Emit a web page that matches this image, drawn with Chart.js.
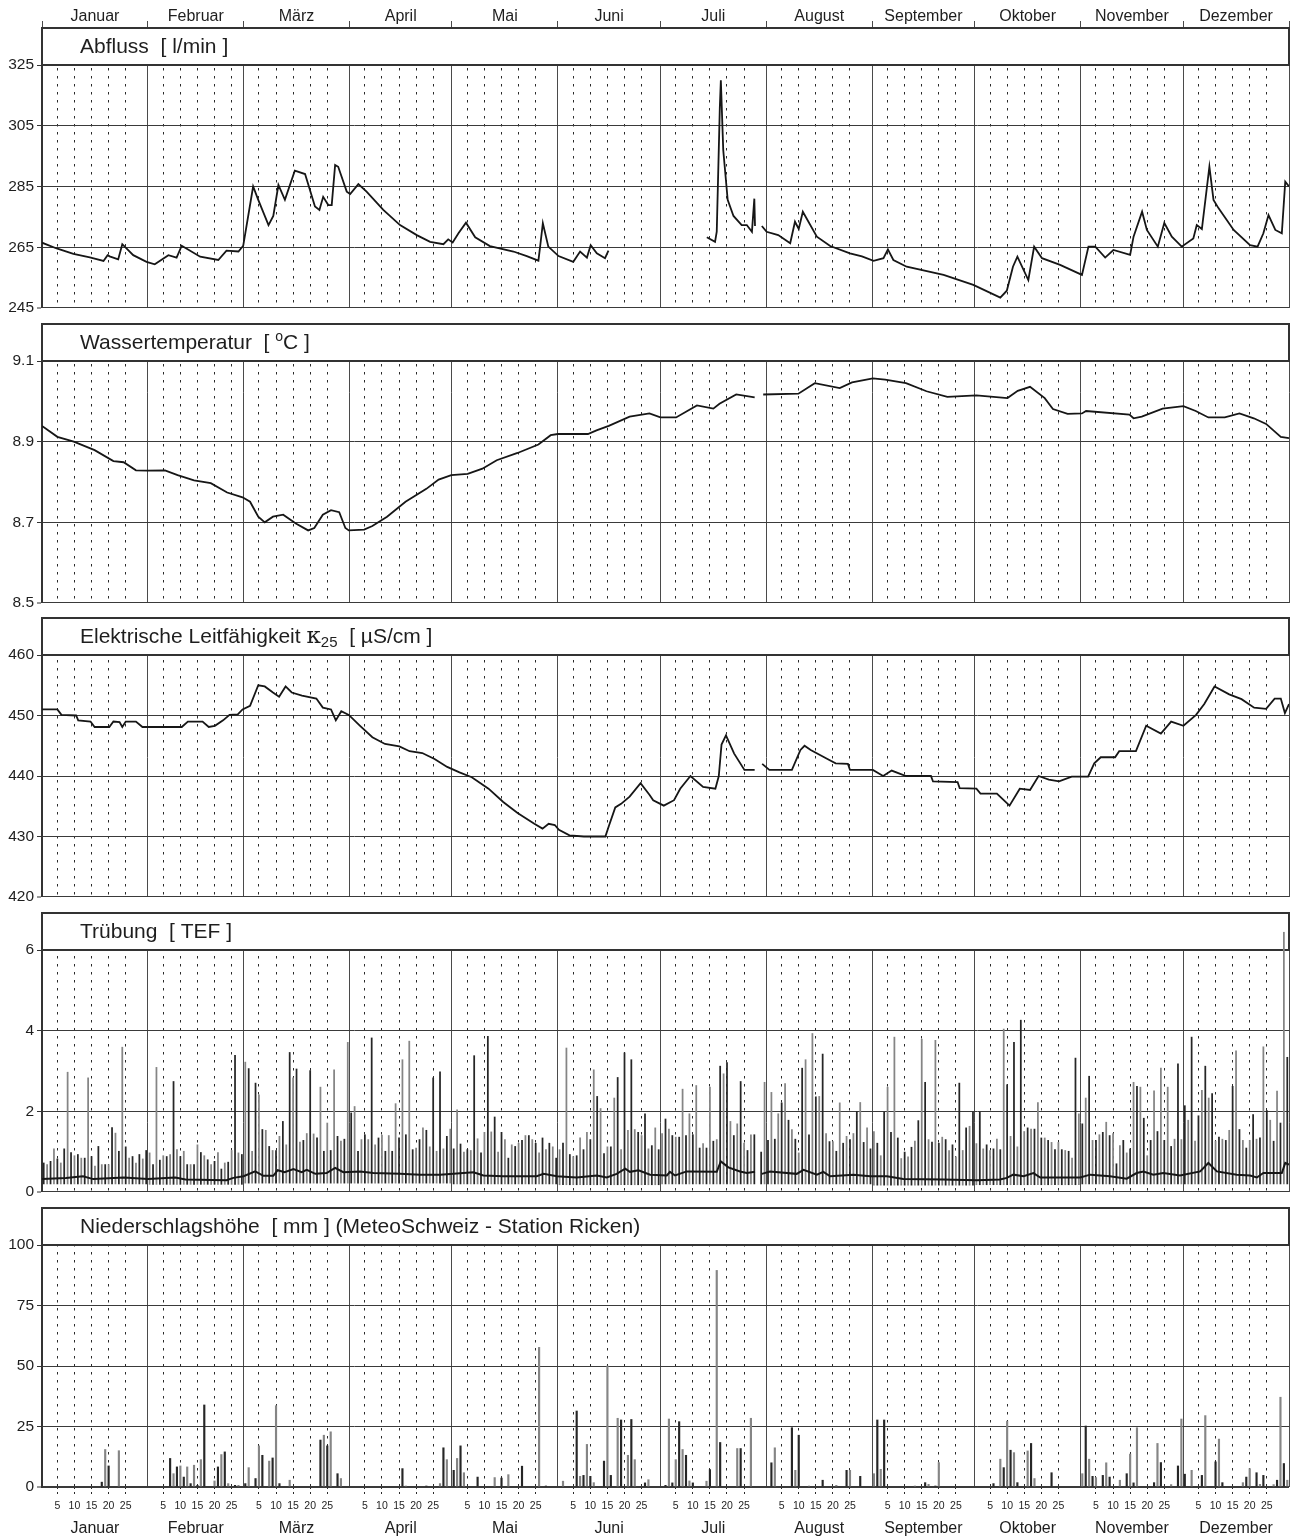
<!DOCTYPE html>
<html>
<head>
<meta charset="utf-8">
<script src="https://cdn.jsdelivr.net/npm/chart.js@4.4.1/dist/chart.umd.min.js"></script>
<style>
  html, body { margin: 0; padding: 0; background: #fff; }
  #wrap { position: relative; width: 1295px; height: 1538px; }
</style>
</head>
<body>
<div id="wrap"><canvas id="jahrChart"></canvas></div>
<script>
// Kalender
const monate = ['Januar', 'Februar', 'März', 'April', 'Mai', 'Juni', 'Juli', 'August', 'September', 'Oktober', 'November', 'Dezember'];
const monatsStart = [0, 31, 59, 90, 120, 151, 181, 212, 243, 273, 304, 334, 365];
const tagMarken = [5, 10, 15, 20, 25];

// Achsen-Ticks
const abflussTicks = [245, 265, 285, 305, 325];
const tempTicks = [8.5, 8.7, 8.9, 9.1];
const leitTicks = [420, 430, 440, 450, 460];
const truebTicks = [0, 2, 4, 6];
const niederTicks = [0, 25, 50, 75, 100];

// Abfluss [l/min]
const abflussTag = [0, 4.3, 9.2, 14, 18, 19.2, 19.8, 22.3, 23.5, 26.7, 30.6, 33, 37, 39.4, 40.9, 46.3, 51.6, 54, 57.5, 58.9,
  61.8, 63.3, 66.3, 67.7, 69.2, 71.1, 74, 77, 79.9, 81.2, 82.3, 83.8, 84.8, 85.8, 86.7, 89.2, 90.2, 92.6, 95, 99.9,
  104.8, 109.7, 113.6, 117.5, 118.9, 120.2, 121.9, 124.1, 126.8, 131.1, 138, 141.9, 145.3, 145.8, 146.6, 148.2, 151.2, 155.5, 157.5, 159.5,
  160.6, 162.4, 164.8, 165.8, 180,
  194.6, 197, 197.5, 198.4, 198.7, 199.4, 200.7, 202.4, 204.8, 206.3, 207.8, 208.5, 208.7, 209.7,
  210.7, 212.1, 215.5, 219, 220.4, 221.5, 222.7, 226.8, 230.7, 236.5, 240, 243.4, 246.3, 247.6, 249.2, 253.1, 263.9, 272.6, 280.5, 282.4,
  284.2, 285.5, 288.7, 290.4, 292.7, 298, 304.4, 306.3, 308.3, 311.2, 313.6, 318.5, 319.5, 322, 323.4, 326.6, 328.5, 330.7, 333.6, 337,
  338, 339.5, 341.7, 342.9, 344.4, 348.8, 353.6, 355.8, 357.5, 359, 361, 362.9, 363.9, 365];
const abflussWert = [266.5, 264.6, 262.8, 261.7, 260.5, 262.4, 262, 261, 266, 262.4, 260.2, 259.4, 262.4, 261.6, 265.5, 261.9, 260.8, 263.9, 263.6, 265.5,
  285, 280.6, 272.3, 275.3, 285.5, 280.6, 290.2, 289.1, 278.4, 277.3, 281.6, 278.9, 278.9, 292.1, 291.5, 283.3, 282.5, 285.8, 283.3, 277.3,
  272.3, 269, 266.8, 266, 267.6, 266.6, 269.6, 273.1, 268.3, 265.4, 263.6, 262.1, 260.6, 265.2, 272.9, 265.2, 262.1, 260.2, 263.6, 261.6,
  265.7, 263, 261.4, 263.9, null,
  268.3, 266.8, 270.1, 311, 320, 297, 280.6, 275.3, 272.3, 272.3, 270.1, 281, 272, null,
  272, 270.1, 269, 266.3, 273.4, 271, 276.7, 268.5, 265.4, 263, 262, 260.5, 261.4, 264.3, 260.8, 258.6, 255.9, 252.6, 248.4, 250.7,
  258.6, 261.9, 254.2, 265.2, 261.4, 259.2, 255.9, 265.2, 265.2, 261.6, 264.1, 262.5, 268.5, 276.7, 270.7, 265.2, 273, 268.5, 265.2, 267.9,
  272.3, 271, 291.5, 280.6, 277.8, 270.7, 265.7, 265.2, 269.6, 275.6, 270.7, 269.6, 286.6, 285];

// Wassertemperatur [°C]
const tempTag = [0, 4.5, 9.3, 15.4, 20.9, 23.9, 27.5, 30.8, 36, 39.7, 44.5, 49.4, 54.2, 58.7, 60.9, 63.3, 65.2, 67.6, 70.6, 74.3,
  77.9, 79.7, 82.2, 84.6, 87, 88.8, 89.8, 94.3, 96.7, 101, 106.4, 112.5, 116.1, 119.8, 124.6, 128.9, 133.1, 139.2, 145.3, 148.9,
  151, 159.8, 162.3, 165.9, 172, 177.8, 181, 185.6, 191.7, 196.5, 198.3, 203.2, 208.6, 209.8,
  211.1, 221.4, 226.2, 233.5, 237.1, 243.2, 246.8, 252.9, 258.9, 265, 273.5, 282.6, 285.6, 289.2, 293.5, 295.9, 300.2, 304.4, 305.6, 318.3,
  319.5, 321.9, 328, 334.1, 337.7, 341.4, 346.2, 350.5, 354.7, 358.3, 362.6, 365];
const tempWert = [8.939, 8.912, 8.9, 8.879, 8.852, 8.849, 8.829, 8.828, 8.829, 8.817, 8.804, 8.797, 8.774, 8.762, 8.751, 8.714, 8.7, 8.714, 8.719, 8.697,
  8.68, 8.686, 8.719, 8.73, 8.725, 8.686, 8.68, 8.682, 8.691, 8.714, 8.751, 8.783, 8.806, 8.817, 8.82, 8.833, 8.854, 8.872, 8.893, 8.916,
  8.919, 8.919, 8.928, 8.939, 8.962, 8.97, 8.96, 8.96, 8.99, 8.982, 8.994, 9.017, 9.01, null,
  9.017, 9.019, 9.045, 9.033, 9.047, 9.057, 9.054, 9.045, 9.025, 9.011, 9.015, 9.008, 9.026, 9.036, 9.008, 8.981, 8.969, 8.97, 8.976, 8.967,
  8.958, 8.962, 8.982, 8.988, 8.976, 8.96, 8.96, 8.97, 8.958, 8.944, 8.912, 8.909];

// Elektrische Leitfähigkeit [µS/cm]
const leitTag = [0, 4.5, 5.7, 10, 10.6, 14.2, 15.4, 19.7, 20.9, 22.7, 23.5, 24.5, 27.5, 29.4, 40.9, 42.7, 47, 48.8, 50.6, 53,
  54.9, 57.3, 58.7, 60.9, 63.3, 65.2, 67.6, 69.4, 71.3, 73.1, 76.1, 80.3, 82.2, 84.6, 86, 87.6, 89.8, 93.1, 96.7, 100.4,
  104.6, 107.6, 111.3, 114.9, 118.6, 122.2, 125.8, 130.7, 135, 139.2, 144.1, 146.5, 148.3, 150.1, 151.3, 154.4, 158.6, 164.9, 165.9, 167.8,
  169.5, 172, 175.2, 177.8, 178.9, 182, 185, 186.8, 189.8, 193.5, 197.1, 198.1, 198.9, 200.2, 202.6, 205.6, 208.6, 209.7,
  210.8, 212.9, 219.5, 222, 223.2, 225, 229.9, 232.3, 235.9, 236.5, 243.2, 246.2, 248.7, 252.9, 260.2, 260.8, 268, 268.6, 273.5, 274.7,
  279.5, 283.2, 286.2, 289.2, 291.7, 294.7, 297.7, 301.4, 306.2, 308, 309.9, 314.1, 315.3, 320.2, 323.2, 327.5, 330.5, 334.1, 337.8, 340.2,
  343.2, 347.5, 351.1, 354.8, 358.3, 360.8, 362.6, 363.8, 365];
const leitWert = [451, 451, 450.1, 450, 449.2, 449, 448.1, 448.1, 449, 448.9, 448.1, 449, 449, 448.1, 448.1, 449, 449, 448.1, 448.3, 449.2,
  450.1, 450.2, 451, 451.6, 455, 454.8, 453.8, 453.1, 454.8, 453.8, 453.3, 452.8, 451.3, 451, 449.2, 450.7, 450.1, 448.3, 446.4, 445.3,
  444.9, 444.1, 443.8, 442.8, 441.5, 440.6, 439.8, 437.9, 435.7, 433.9, 432.1, 431.3, 432.1, 431.9, 431.1, 430.2, 430, 430, 431.7, 434.8,
  435.4, 436.6, 438.8, 436.9, 436, 435.1, 436, 437.9, 440, 438.2, 437.9, 440, 445.2, 446.7, 443.7, 441, 441, null,
  442, 441, 441, 444.3, 445, 444.3, 442.8, 442.1, 442, 441, 441, 440, 440.9, 440, 440, 439.1, 439, 438, 437.9, 437.1,
  437.1, 435.1, 437.9, 437.7, 440, 439.4, 439.1, 439.9, 439.9, 442.1, 443.1, 443.1, 444.1, 444.1, 448.3, 447, 449, 448.3, 450.1, 451.9,
  454.8, 453.5, 452.7, 451.3, 451.1, 452.8, 452.8, 450.4, 451.9];

// Trübung [TEF] - Tagesmittel
const truebTag = [0, 7, 12, 15, 24, 31, 39, 42, 54, 56, 59, 62.4, 64.8, 67.7, 69, 71, 73.6, 76, 77.5, 80,
  83.3, 85.8, 88.2, 93.1, 97, 104.8, 110.7, 116.5, 126.3, 129.2, 135, 144.8, 146.8, 150.7, 156.5, 162.4, 165.3, 168.2, 170.7, 172.1,
  174.6, 178, 182.9, 183.8, 185.3, 188.7, 197.5, 198.7, 200.9, 204.3, 206.3, 208.7, 209.7,
  210.7, 213.1, 220.9, 222.9, 226.8, 228.7, 230.7, 237.5, 242.4, 247.3, 252.1, 263.8, 273.6, 280.4, 282.4, 284.3, 287.3, 290.2, 292.2, 303.9,
  306.8, 312.6, 317.5, 320.4, 322.4, 325.3, 328.2, 333.1, 339, 341.4, 343.9, 349.7, 353.6, 355.6, 357.5, 362.9, 363.9, 365];
const truebWert = [0.32, 0.35, 0.39, 0.32, 0.36, 0.32, 0.36, 0.31, 0.29, 0.35, 0.39, 0.51, 0.4, 0.4, 0.54, 0.49, 0.57, 0.49, 0.55, 0.45,
  0.47, 0.6, 0.49, 0.51, 0.47, 0.45, 0.43, 0.43, 0.49, 0.41, 0.39, 0.39, 0.45, 0.39, 0.36, 0.41, 0.36, 0.45, 0.58, 0.5,
  0.54, 0.43, 0.41, 0.5, 0.41, 0.51, 0.5, 0.76, 0.61, 0.51, 0.47, 0.5, null,
  0.45, 0.51, 0.45, 0.55, 0.43, 0.5, 0.39, 0.43, 0.39, 0.39, 0.32, 0.31, 0.29, 0.31, 0.35, 0.43, 0.39, 0.47, 0.36, 0.36,
  0.43, 0.39, 0.33, 0.47, 0.51, 0.43, 0.47, 0.41, 0.51, 0.72, 0.51, 0.43, 0.41, 0.36, 0.47, 0.47, 0.72, 0.68];

// Trübung - Tagesmaxima (ein Wert pro Tag) und Tagesminima je Monat
const truebMax = [
  0.72, 0.68, 0.76, 1.07, 0.82, 0.72, 1.07, 2.97, 0.98, 0.9, 0.93, 0.84, 0.84, 2.83, 0.88, 0.64, 1.13, 0.68, 0.68, 0.68, 1.6, 1.46, 1.01, 3.59, 1.12, 0.84, 0.88, 0.72, 0.93, 0.82, 1.03,
  0.97, 0.68, 3.09, 0.79, 0.9, 0.88, 0.93, 2.74, 1.05, 0.88, 1.01, 0.68, 0.68, 0.68, 1.17, 0.98, 0.9, 0.8, 0.68, 0.76, 0.98, 0.57, 0.72, 0.74, 1.03, 3.39, 0.97, 0.93,
  3.22, 3.06, 1.01, 2.7, 2.41, 1.55, 1.53, 1.13, 1.03, 1.03, 1.38, 1.75, 1.17, 3.46, 2.83, 3.05, 1.24, 1.28, 1.45, 3.01, 1.44, 1.34, 2.6, 1.01, 1.71, 1.03, 3.03, 1.38, 1.26, 1.31, 3.71,
  1.96, 2.12, 1.01, 1.3, 1.42, 1.3, 3.82, 1.17, 1.34, 1.41, 1.01, 1.4, 1.01, 2.19, 1.34, 3.28, 1.42, 3.74, 1.05, 1.09, 1.3, 1.59, 1.53, 1.12, 2.83, 1.01, 2.98, 1.07, 1.38, 1.56,
  1.07, 2.04, 1.19, 0.99, 1.05, 1.03, 3.38, 1.32, 0.97, 1.48, 3.86, 1.49, 1.86, 0.99, 1.48, 1.3, 0.84, 1.17, 1.13, 1.21, 1.28, 1.4, 1.4, 1.3, 1.21, 0.97, 1.34, 1.05, 1.21, 1.12, 0.84,
  1.05, 1.21, 3.57, 0.93, 0.88, 0.9, 1.34, 1.05, 1.48, 1.3, 3.03, 2.37, 2.07, 0.95, 1.12, 1.12, 2.33, 2.84, 1.05, 3.45, 1.53, 3.28, 1.55, 1.48, 1.4, 1.94, 1.07, 1.15, 1.59, 1.05,
  1.45, 1.81, 1.56, 1.4, 1.36, 1.36, 2.55, 1.4, 1.94, 1.42, 2.64, 1.09, 1.2, 1.09, 2.6, 1.26, 1.3, 3.12, 2.93, 3.21, 1.75, 1.4, 1.69, 2.74, 1.21, 1.03, 1.42, 1.42, null, 0.99, 2.72,
  1.28, 2.47, 1.31, 1.94, 2.21, 2.69, 1.78, 1.55, 1.31, 0.97, 3.07, 3.28, 1.42, 3.93, 2.36, 2.37, 3.42, 1.45, 1.25, 1.25, 1.01, 2.21, 1.21, 1.38, 1.3, 1.45, 2.0, 2.22, 1.23, 1.59, 1.07,
  1.5, 1.21, 0.9, 1.98, 2.6, 1.48, 3.84, 1.34, 0.83, 0.99, 0.87, 1.11, 1.26, 1.77, 3.79, 2.72, 1.3, 1.24, 3.76, 1.21, 1.36, 1.3, 1.03, 1.17, 0.87, 2.7, 1.03, 1.59, 1.63, 1.98,
  1.2, 1.98, 1.07, 1.17, 1.03, 1.07, 1.31, 1.05, 4.04, 2.66, 1.38, 3.71, 1.12, 4.26, 1.5, 1.59, 1.56, 1.56, 2.22, 1.34, 1.34, 1.28, 1.23, 1.05, 1.23, 1.05, 1.03, 1.01, 0.84, 3.32, 1.94,
  1.69, 2.33, 2.87, 1.28, 1.28, 1.42, 1.48, 1.73, 1.4, 1.45, 0.7, 1.15, 1.28, 0.97, 1.07, 2.72, 2.62, 2.6, 1.83, 0.9, 1.28, 2.51, 1.5, 3.07, 1.28, 2.6, 1.13, 1.31, 3.18, 1.3,
  2.14, 1.78, 3.84, 1.26, 1.89, 2.52, 3.12, 2.33, 2.44, 1.26, 1.36, 1.31, 1.28, 1.53, 2.62, 3.5, 1.55, 1.28, 1.09, 1.28, 1.92, 1.31, 1.34, 3.6, 2.02, 1.78, 1.26, 2.5, 1.71, 6.44, 3.34
];
const truebMinMonat = [0.2, 0.19, 0.22, 0.22, 0.2, 0.18, 0.2, 0.2, 0.17, 0.18, 0.2, 0.2];

// Niederschlagshöhe [mm] (Tag des Jahres, Wert)
const niederTag = [17, 18, 19, 22,
  37, 38, 39, 40, 41, 42, 43, 44, 45, 46, 47, 50, 51, 52, 53, 54, 56, 57,
  59, 60, 62, 63, 64, 66, 67, 68, 69, 72, 81, 82, 83, 84, 86, 87,
  105, 106, 112, 116, 117, 118,
  120, 121, 122, 123, 127, 132, 134, 136, 140, 145, 147,
  152, 156, 157, 158, 159, 160, 161, 164, 165, 166, 168, 169, 171, 172, 173, 176, 177,
  182, 183, 184, 185, 186, 187, 188, 189, 190, 194, 195, 197, 198, 203, 204, 207,
  213, 214, 219, 220, 221, 224, 228, 232, 235, 236, 239,
  243, 244, 245, 246, 255, 258, 259, 261, 262,
  278, 280, 281, 282, 283, 284, 285, 288, 289, 290, 295,
  304, 305, 306, 307, 308, 310, 311, 312, 315, 317, 318, 319, 320, 325, 326, 327, 330, 332, 333,
  334, 336, 339, 340, 343, 344, 345, 351, 352, 353, 355, 356, 357, 360, 361, 362, 363, 364];
const niederWert = [2, 15.5, 8.7, 15,
  11.8, 5.5, 8.3, 8.7, 4.1, 8.3, 1.4, 9, 0.7, 11.3, 33.9, 2.5, 8.3, 13.4, 14.5, 1.4, 0.7, 0.7,
  1.4, 8, 3.5, 17, 13.1, 10.7, 12, 33.6, 1.4, 2.8, 19.4, 21.4, 17, 22.8, 5.5, 3.5,
  7.6, 0.4, 0.4, 1.4, 16.2, 11.3,
  6.9, 11.8, 17, 5.9, 4.1, 3.9, 3.7, 5.1, 8.6, 57.7, 0.4,
  2.4, 31.4, 4.4, 4.8, 17.6, 4.4, 1.8, 10.7, 50, 4.8, 28.4, 27.7, 13.1, 27.9, 11.3, 1.7, 3,
  0.7, 28.1, 1.7, 11.3, 27, 15.5, 13.1, 2.5, 1.7, 2.4, 7.2, 89.5, 18.4, 15.9, 15.9, 28.4,
  10, 16.2, 24.5, 6.9, 21.4, 0.4, 2.8, 0.7, 6.9, 6.9, 4.4,
  5.5, 27.7, 7.3, 27.7, 0.4, 1.8, 1.1, 0.4, 10.1,
  1.4, 11.5, 8, 27.2, 15.2, 14.2, 1.8, 14.9, 18, 3.5, 5.9,
  5.5, 25.2, 11.5, 4.4, 3.9, 4.8, 10, 4.1, 2.8, 5.5, 13.6, 1.7, 24.5, 1.8, 18, 10.1, 1, 8.7, 28.1,
  5.3, 6.9, 4.8, 29.5, 10.4, 19.8, 1.8, 1.8, 4.1, 7.6, 5.9, 1.1, 4.8, 1, 2.8, 37.1, 9.7, 2.8];

// Titel der Teilgrafiken
const panelTitel = [
  [{ t: 'Abfluss  [ l/min ]' }],
  [{ t: 'Wassertemperatur  [ ' }, { t: 'o', sup: true }, { t: 'C ]' }],
  [{ t: 'Elektrische Leitfähigkeit ' }, { t: 'κ', kappa: true }, { t: '25', sub: true }, { t: '  [ µS/cm ]' }],
  [{ t: 'Trübung  [ TEF ]' }],
  [{ t: 'Niederschlagshöhe  [ mm ] (MeteoSchweiz - Station Ricken)' }]
];

const schrift = '"Liberation Sans", Arial, sans-serif';
const textFarbe = '#1e1e1e';
const linienFarbe = '#3a3a3a';

function monatVonTag(tag) {
  let m = 0;
  while (m < 11 && tag >= monatsStart[m + 1]) m++;
  return m;
}

function punkte(tage, werte) {
  return tage.map((t, i) => ({ x: t, y: werte[i] }));
}

// Titelkästen in den Zwischenräumen
const titelKasten = {
  id: 'titelKasten',
  beforeDatasetsDraw(chart) {
    const ctx = chart.ctx;
    const a = chart.chartArea;
    panelTitel.forEach((teile, i) => {
      const s = chart.scales['t' + (i + 1)];
      ctx.save();
      ctx.fillStyle = '#fff';
      ctx.fillRect(a.left - 1, s.top, a.right - a.left + 3, s.bottom - s.top - 1);
      const boxTop = s.bottom - 37;
      ctx.strokeStyle = '#333';
      ctx.lineWidth = 2;
      ctx.strokeRect(a.left, boxTop, a.right - a.left, s.bottom - boxTop);
      let x = a.left + 38;
      const y = boxTop + 19;
      ctx.fillStyle = textFarbe;
      ctx.textBaseline = 'middle';
      teile.forEach(p => {
        let dy = 0;
        if (p.sup) { ctx.font = '14px ' + schrift; dy = -6; }
        else if (p.sub) { ctx.font = '15px ' + schrift; dy = 6; }
        else if (p.kappa) { ctx.font = '23px "DejaVu Serif", serif'; dy = 0; }
        else { ctx.font = '21px ' + schrift; }
        ctx.fillText(p.t, x, y + dy);
        x += ctx.measureText(p.t).width;
      });
      ctx.restore();
    });
  }
};

function yAchse(min, max, werte, weight, stackWeight) {
  return {
    type: 'linear', position: 'left', stack: 'panels', stackWeight, weight, min, max,
    afterBuildTicks: s => { s.ticks = werte.map(v => ({ value: v })); },
    afterFit: s => { s.width = 42; },
    ticks: { color: textFarbe, font: { family: schrift, size: 15.5 }, padding: 3, callback: v => String(v) },
    grid: { color: linienFarbe, lineWidth: c => c.index === 0 ? 2 : 1, tickLength: 5, tickColor: '#333', tickWidth: 1 },
    border: { display: true, color: '#333', width: 2 }
  };
}

function zwischenraum(weight, stackWeight) {
  return {
    type: 'linear', position: 'left', stack: 'panels', stackWeight, weight,
    ticks: { display: false }, grid: { display: false, drawTicks: false }, border: { display: false },
    afterFit: s => { s.width = 42; }
  };
}

const kopfTicks = [];
for (let m = 0; m < 12; m++) {
  kopfTicks.push(monatsStart[m], (monatsStart[m] + monatsStart[m + 1]) / 2);
}
kopfTicks.push(365);
const tagTicks = [];
for (let m = 0; m < 12; m++) tagMarken.forEach(d => tagTicks.push(monatsStart[m] + d - 0.5));
const mitteTicks = monate.map((_, m) => (monatsStart[m] + monatsStart[m + 1]) / 2);

const truebBalken = truebMax.map((v, i) => ({ x: i + 0.5, y: v == null ? null : [truebMinMonat[monatVonTag(i)], v] }));
const niederBalken = niederTag.map((t, i) => ({ x: t + 0.5, y: niederWert[i] }));

const linie = { type: 'line', borderColor: '#161616', borderWidth: 1.8, pointRadius: 0, tension: 0, spanGaps: false, order: 1 };
const balkenFarbe = c => c.dataIndex % 2 ? '#858585' : '#262626';

const ctx = document.getElementById('jahrChart').getContext('2d');
const jahrChart = new Chart(ctx, {
  type: 'line',
  data: {
    datasets: [
      { ...linie, label: 'Abfluss', yAxisID: 'y1', data: punkte(abflussTag, abflussWert) },
      { ...linie, label: 'Wassertemperatur', yAxisID: 'y2', data: punkte(tempTag, tempWert) },
      { ...linie, label: 'Leitfähigkeit', yAxisID: 'y3', data: punkte(leitTag, leitWert) },
      { ...linie, label: 'Trübung Mittel', yAxisID: 'y4', data: punkte(truebTag, truebWert), borderWidth: 2 },
      { type: 'bar', label: 'Trübung Spanne', yAxisID: 'y4', data: truebBalken, backgroundColor: balkenFarbe,
        barThickness: 1.1, grouped: false, order: 2, clip: false },
      { type: 'bar', label: 'Niederschlag', yAxisID: 'y5', data: niederBalken, backgroundColor: balkenFarbe,
        barThickness: 1.5, grouped: false, order: 2 }
    ]
  },
  options: {
    responsive: true,
    maintainAspectRatio: false,
    animation: false,
    devicePixelRatio: 1,
    layout: { padding: { left: 0, right: 6, top: 0, bottom: 0 } },
    plugins: { legend: { display: false }, tooltip: { enabled: false } },
    scales: {
      x: {
        type: 'linear', position: 'top', min: 0, max: 365, offset: false,
        afterBuildTicks: s => { s.ticks = kopfTicks.map(v => ({ value: v })); },
        afterFit: s => { s.height = 28; },
        ticks: { autoSkip: false, maxRotation: 0, padding: -5, color: textFarbe, font: { family: schrift, size: 16 },
          callback: (v, i) => i % 2 ? monate[(i - 1) / 2] : '' },
        grid: { offset: false, color: c => c.index % 2 ? 'rgba(0,0,0,0)' : '#4a4a4a', lineWidth: 1, tickLength: 7 },
        border: { display: false }
      },
      xd: {
        type: 'linear', position: 'bottom', min: 0, max: 365, offset: false,
        afterBuildTicks: s => { s.ticks = tagTicks.map(v => ({ value: v })); },
        afterFit: s => { s.height = 24; },
        ticks: { autoSkip: false, maxRotation: 0, padding: 5, color: textFarbe, font: { family: schrift, size: 10.5 },
          callback: (v, i) => String(tagMarken[i % 5]) },
        grid: { offset: false, color: '#2a2a2a', lineWidth: 1, tickLength: 8, tickBorderDash: [2, 3] },
        border: { display: false, dash: [2.5, 5.5] }
      },
      xm: {
        type: 'linear', position: 'bottom', min: 0, max: 365, offset: false,
        afterBuildTicks: s => { s.ticks = mitteTicks.map(v => ({ value: v })); },
        afterFit: s => { s.height = 27; },
        ticks: { autoSkip: false, maxRotation: 0, padding: 8, color: textFarbe, font: { family: schrift, size: 16 },
          callback: (v, i) => monate[i] },
        grid: { offset: false, display: false, drawTicks: false },
        border: { display: false }
      },
      t1: zwischenraum(10, 37),
      y1: yAchse(245, 325, abflussTicks, 9, 243),
      t2: zwischenraum(8, 53),
      y2: yAchse(8.5, 9.1, tempTicks, 7, 242),
      t3: zwischenraum(6, 52),
      y3: yAchse(420, 460, leitTicks, 5, 242),
      t4: zwischenraum(4, 53),
      y4: yAchse(0, 6, truebTicks, 3, 242),
      t5: zwischenraum(2, 53),
      y5: yAchse(0, 100, niederTicks, 1, 242)
    }
  },
  plugins: [titelKasten]
});
</script>
</body>
</html>
